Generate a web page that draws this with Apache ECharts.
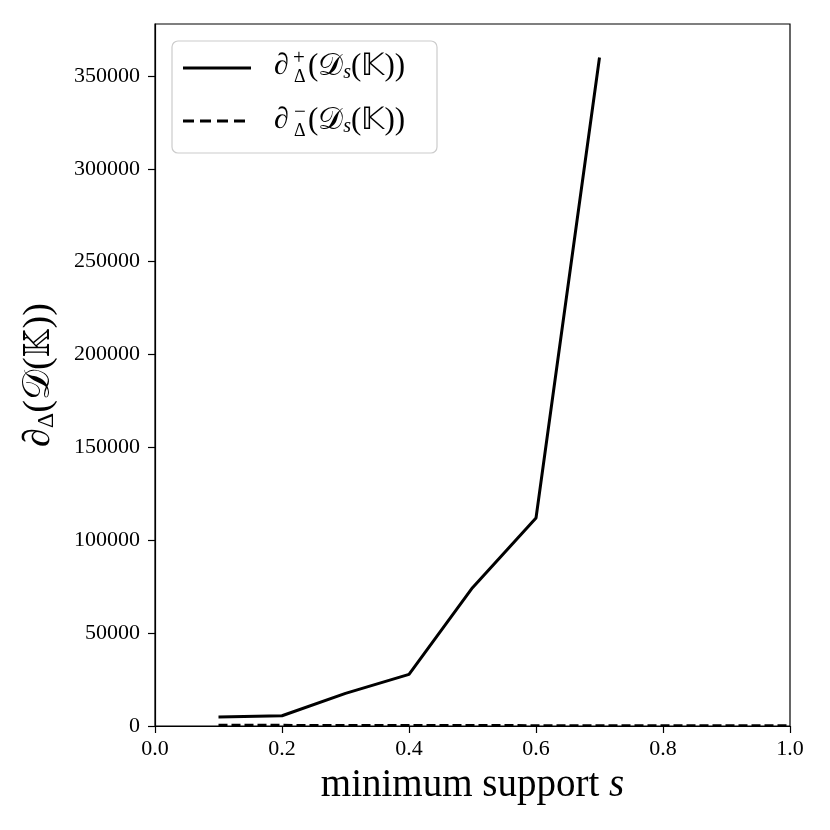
<!DOCTYPE html>
<html>
<head>
<meta charset="utf-8">
<script src="https://cdn.jsdelivr.net/npm/echarts@6/dist/echarts.min.js"></script>
<style>
  html, body { margin: 0; padding: 0; background: #fff; }
  #chart { width: 830px; height: 830px; }
</style>
</head>
<body>
<div id="chart"></div>
<script>
// minimum support levels on the x axis
const supportLevels = [0.1, 0.2, 0.3, 0.4, 0.5, 0.6, 0.7, 0.8, 0.9, 1.0];
// upper boundary size, ends at s = 0.7
const upperBoundary = [4800, 5500, 17600, 27800, 74500, 112000, 360000, null, null, null];
// lower boundary size, stays near zero
const lowerBoundary = [500, 450, 400, 400, 350, 300, 300, 250, 250, 200];
const yTicks = [0, 50000, 100000, 150000, 200000, 250000, 300000, 350000];
const xTicks = [0, 0.2, 0.4, 0.6, 0.8, 1.0];

const FONT = "Liberation Serif";
const chart = echarts.init(document.getElementById("chart"), null, { renderer: "canvas" });

const pairs = (ys) => supportLevels.map((x, i) => [x, ys[i]]);

const legendRich = {
  m: { fontFamily: FONT, fontSize: 31, fill: "#000" },
  s: { fontFamily: FONT, fontSize: 20, fontStyle: "italic", fill: "#000", verticalAlign: "bottom" }
};

chart.setOption({
  animation: false,
  backgroundColor: "#fff",
  grid: {
    left: 155, right: 40, top: 24, bottom: 104,
    show: true, borderColor: "#000", borderWidth: 1.2, backgroundColor: "transparent"
  },
  xAxis: {
    type: "value", min: 0, max: 1, interval: 0.2,
    name: "{t|minimum support }{i|s}",
    nameLocation: "middle", nameGap: 40,
    nameTextStyle: {
      rich: {
        t: { fontFamily: FONT, fontSize: 39, color: "#000" },
        i: { fontFamily: FONT, fontSize: 39, fontStyle: "italic", color: "#000" }
      }
    },
    axisLine: { lineStyle: { color: "#000", width: 1.2 } },
    axisTick: { length: 7, lineStyle: { color: "#000", width: 1.2 }, customValues: xTicks },
    axisLabel: {
      customValues: xTicks, margin: 12,
      formatter: (v) => v.toFixed(1),
      fontFamily: FONT, fontSize: 22, color: "#000"
    },
    splitLine: { show: false }
  },
  yAxis: {
    type: "value", min: 0, max: 378000, interval: 50000,
    name: "{m|∂}{s|Δ}{m|(𝒟(𝕂))}",
    nameLocation: "middle", nameRotate: 90, nameGap: 96,
    nameTextStyle: {
      rich: {
        m: { fontFamily: FONT, fontSize: 38, color: "#000" },
        s: { fontFamily: FONT, fontSize: 24, color: "#000", verticalAlign: "bottom", padding: [16, 0, 0, 0] }
      }
    },
    axisLine: { show: true, lineStyle: { color: "#000", width: 1.2 } },
    axisTick: { show: true, length: 7, lineStyle: { color: "#000", width: 1.2 }, customValues: yTicks },
    axisLabel: {
      customValues: yTicks, margin: 15,
      formatter: (v) => String(v),
      fontFamily: FONT, fontSize: 22, color: "#000"
    },
    splitLine: { show: false }
  },
  series: [
    {
      name: "upper", type: "line", data: pairs(upperBoundary),
      symbol: "none", lineStyle: { color: "#000", width: 3 }
    },
    {
      name: "lower", type: "line", data: pairs(lowerBoundary),
      symbol: "none", lineStyle: { color: "#000", width: 2.6, type: [9, 4] }
    }
  ],
  graphic: [
    { type: "rect", silent: true, shape: { x: 172, y: 41, width: 265, height: 112, r: 6 },
      style: { fill: "rgba(255,255,255,0.8)", stroke: "#ccc", lineWidth: 1.2 } },
    { type: "line", silent: true, shape: { x1: 183, y1: 68, x2: 251, y2: 68 },
      style: { stroke: "#000", lineWidth: 3 } },
    { type: "line", silent: true, shape: { x1: 183, y1: 121, x2: 251, y2: 121 },
      style: { stroke: "#000", lineWidth: 2.8, lineDash: [11, 6] } },
    // row 1 label
    { type: "text", x: 274, y: 66, style: { text: "∂", font: "30px " + FONT, fill: "#000", verticalAlign: "middle" } },
    { type: "text", x: 293, y: 58, style: { text: "+", font: "21px " + FONT, fill: "#000", verticalAlign: "middle" } },
    { type: "text", x: 294, y: 77, style: { text: "Δ", font: "18px " + FONT, fill: "#000", verticalAlign: "middle" } },
    { type: "text", x: 308, y: 67, style: { text: "{m|(𝒟}{s|s}{m|(𝕂))}", verticalAlign: "middle", rich: legendRich } },
    // row 2 label
    { type: "text", x: 274, y: 120, style: { text: "∂", font: "30px " + FONT, fill: "#000", verticalAlign: "middle" } },
    { type: "text", x: 294, y: 112, style: { text: "−", font: "21px " + FONT, fill: "#000", verticalAlign: "middle" } },
    { type: "text", x: 294, y: 131, style: { text: "Δ", font: "18px " + FONT, fill: "#000", verticalAlign: "middle" } },
    { type: "text", x: 308, y: 121, style: { text: "{m|(𝒟}{s|s}{m|(𝕂))}", verticalAlign: "middle", rich: legendRich } }
  ]
});
</script>
</body>
</html>
